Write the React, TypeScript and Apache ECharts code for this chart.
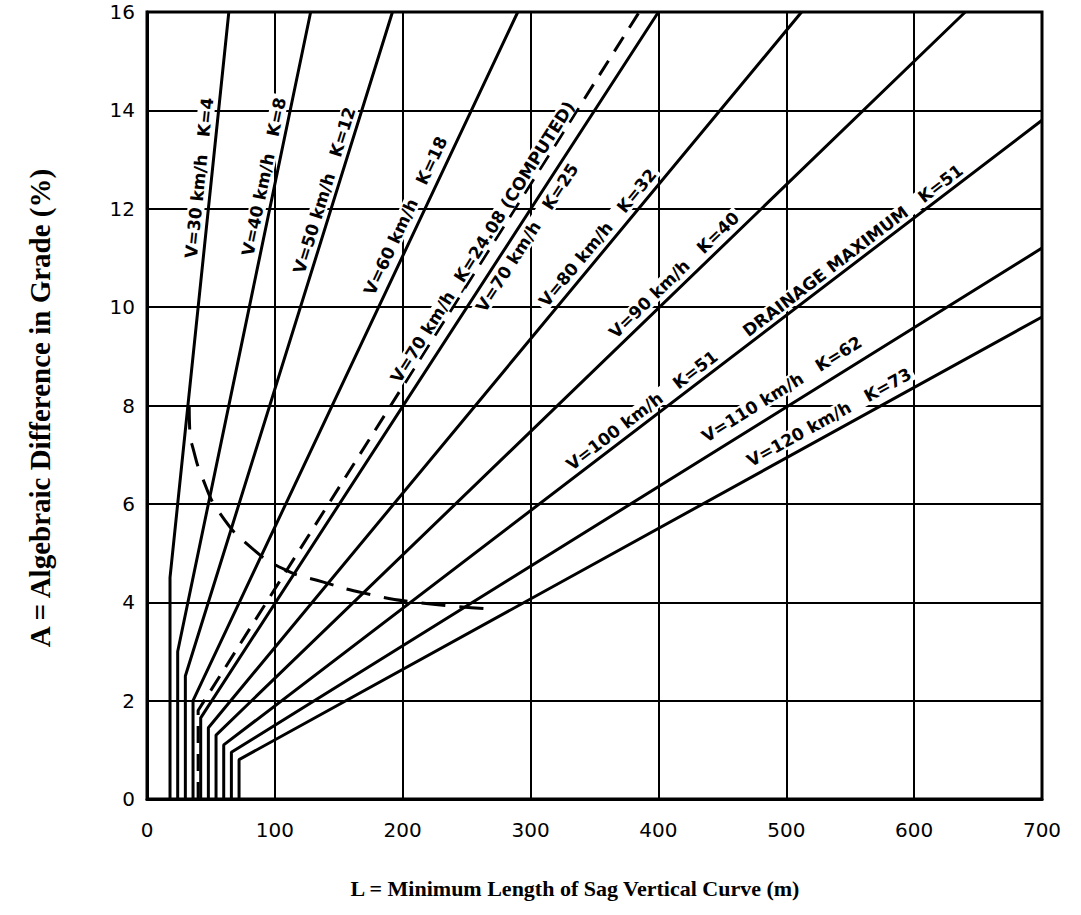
import React, { useEffect, useRef } from "react";
import * as echarts from "echarts";

// Axis ranges and ticks
const X_MIN = 0;
const X_MAX = 700;
const X_STEP = 100;
const Y_MIN = 0;
const Y_MAX = 16;
const Y_STEP = 2;

// Curves: [L (m), A (%)] points
const v30k4 = [[18, 0], [18, 4.5], [64, 16]];
const v40k8 = [[24, 0], [24, 3.0], [128, 16]];
const v50k12 = [[30, 0], [30, 2.5], [192, 16]];
const v60k18 = [[36, 0], [36, 2.0], [290, 16]];
const v70k2408 = [[40, 0], [40, 1.8], [385, 16]];
const v70k25 = [[42, 0], [42, 1.65], [400, 16]];
const v80k32 = [[48, 0], [48, 1.45], [512, 16]];
const v90k40 = [[54, 0], [54, 1.3], [640, 16]];
const v100k51 = [[60, 0], [60, 1.1], [700, 13.8]];
const v110k62 = [[66, 0], [66, 0.95], [700, 11.2]];
const v120k73 = [[72, 0], [72, 0.8], [700, 9.8]];
// S = L boundary (dashed)
const boundary = [
  [33, 8.0], [33.5, 7.45], [36, 7.13], [43, 6.55], [57, 5.81], [82, 5.1],
  [109, 4.65], [138, 4.41], [169, 4.19], [210, 4.0], [270, 3.86],
];

const SOLID = [v30k4, v40k8, v50k12, v60k18, v70k25, v80k32, v90k40, v100k51, v110k62, v120k73];

// Labels along curves: text, anchor on curve [L, A], curve, side, gap
const LABELS = [
  { text: "V=30 km/h   K=4", at: [50.5, 12.6], line: v30k4, below: false, gap: 4 },
  { text: "V=40 km/h   K=8", at: [101, 12.6], line: v40k8, below: false, gap: 4 },
  { text: "V=50 km/h   K=12", at: [148, 12.3], line: v50k12, below: false, gap: 4 },
  { text: "V=60 km/h   K=18", at: [211, 11.75], line: v60k18, below: false, gap: 4 },
  { text: "V=70 km/h _K=24.08 (COMPUTED)", at: [270, 11.2], line: v70k2408, below: false, gap: 3 },
  { text: "V=70 km/h   K=25", at: [289, 11.55], line: v70k25, below: true, gap: 4 },
  { text: "V=80 km/h   K=32", at: [360, 11.25], line: v80k32, below: false, gap: 4 },
  { text: "V=90 km/h   K=40", at: [419, 10.47], line: v90k40, below: false, gap: 4 },
  { text: "DRAINAGE MAXIMUM   K=51", at: [558, 10.95], line: v100k51, below: false, gap: 4 },
  { text: "V=100 km/h   K=51", at: [393, 7.7], line: v100k51, below: false, gap: 4 },
  { text: "V=110 km/h   K=62", at: [502, 8.1], line: v110k62, below: false, gap: 5 },
  { text: "V=120 km/h   K=73", at: [540, 7.45], line: v120k73, below: false, gap: 9 },
];

const X_TITLE = "L = Minimum Length of Sag Vertical Curve (m)";
const Y_TITLE = "A = Algebraic Difference in Grade (%)";

export default function App() {
  const ref = useRef<HTMLDivElement>(null);
  useEffect(() => {
    if (!ref.current) return;
    const chart = echarts.init(ref.current, null, { renderer: "svg" });
    const lineSeries: any[] = SOLID.map((d) => ({
      type: "line",
      data: d,
      symbol: "none",
      silent: true,
      lineStyle: { color: "#000", width: 3 },
      z: 3,
    }));
    lineSeries.push({
      type: "line",
      data: v70k2408,
      symbol: "none",
      lineStyle: { color: "#000", width: 3, type: [17, 11] },
      z: 3,
    });
    lineSeries.push({
      type: "line",
      data: boundary,
      symbol: "none",
      smooth: true,
      lineStyle: { color: "#000", width: 3, type: [24, 14] },
      z: 3,
    });
    const tickFont = { fontFamily: "DejaVu Sans", fontSize: 20, color: "#000" };
    chart.setOption({
      animation: false,
      backgroundColor: "#fff",
      grid: {
        left: 147,
        top: 12,
        right: 39,
        bottom: 116,
        show: true,
        borderColor: "#000",
        borderWidth: 3,
        backgroundColor: "transparent",
      },
      xAxis: {
        type: "value",
        min: X_MIN,
        max: X_MAX,
        interval: X_STEP,
        axisLine: { show: true, lineStyle: { color: "#000", width: 3 } },
        axisTick: { show: false },
        axisLabel: { ...tickFont, margin: 21 },
        splitLine: { show: true, lineStyle: { color: "#000", width: 2 } },
      },
      yAxis: {
        type: "value",
        min: Y_MIN,
        max: Y_MAX,
        interval: Y_STEP,
        axisLine: { show: true, lineStyle: { color: "#000", width: 3 } },
        axisTick: { show: false },
        axisLabel: { ...tickFont, margin: 12 },
        splitLine: { show: true, lineStyle: { color: "#000", width: 2 } },
      },
      series: lineSeries,
    });

    const labelGraphics = LABELS.map((lb) => {
      const p = chart.convertToPixel({ gridIndex: 0 }, lb.at) as number[];
      const n = lb.line.length;
      const a = chart.convertToPixel({ gridIndex: 0 }, lb.line[n - 2]) as number[];
      const b = chart.convertToPixel({ gridIndex: 0 }, lb.line[n - 1]) as number[];
      const th = Math.atan2(a[1] - b[1], b[0] - a[0]);
      const d = lb.below ? -lb.gap : lb.gap;
      return {
        type: "text",
        x: p[0] - d * Math.sin(th),
        y: p[1] - d * Math.cos(th),
        rotation: th,
        z: 10,
        silent: true,
        style: {
          text: lb.text,
          align: "center",
          verticalAlign: lb.below ? "top" : "bottom",
          fill: "#000",
          fontFamily: "DejaVu Sans",
          fontWeight: "bold",
          fontSize: 17,
          backgroundColor: "#fff",
          padding: [0, 3],
        },
      };
    });

    chart.setOption({
      graphic: [
        {
          type: "text",
          x: 40,
          y: 408,
          rotation: Math.PI / 2,
          silent: true,
          style: {
            text: Y_TITLE,
            align: "center",
            verticalAlign: "middle",
            fill: "#000",
            fontFamily: "Liberation Serif",
            fontWeight: "bold",
            fontSize: 29,
          },
        },
        {
          type: "text",
          x: 575,
          y: 888,
          silent: true,
          style: {
            text: X_TITLE,
            align: "center",
            verticalAlign: "middle",
            fill: "#000",
            fontFamily: "Liberation Serif",
            fontWeight: "bold",
            fontSize: 22,
          },
        },
        ...labelGraphics,
      ],
    });
    return () => chart.dispose();
  }, []);
  return (
    <div
      ref={ref}
      style={{ position: "absolute", left: 0, top: 0, width: 1081, height: 915 }}
    />
  );
}
